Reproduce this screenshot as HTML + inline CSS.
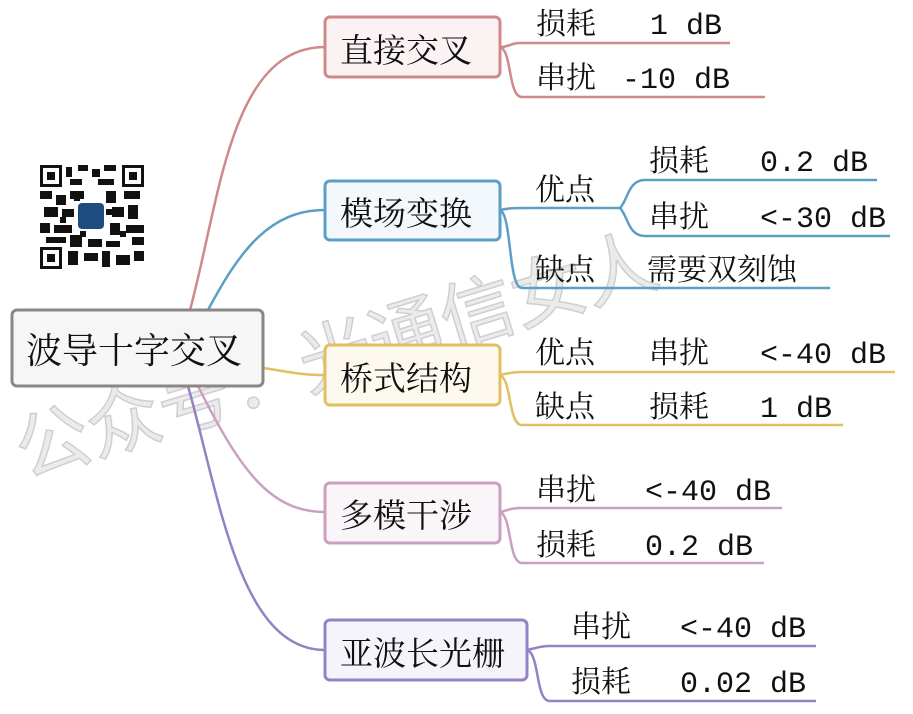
<!DOCTYPE html>
<html><head><meta charset="utf-8"><style>
html,body{margin:0;padding:0;background:#fff}
svg{display:block}
.z{font-family:"Noto Serif CJK SC","Liberation Serif",serif;fill:#111}
.m{font-family:"Liberation Mono","Noto Serif CJK SC",monospace;fill:#111}
</style></head><body>
<svg width="913" height="714" viewBox="0 0 913 714" xmlns="http://www.w3.org/2000/svg">
<!-- watermark -->
<text x="25" y="478" transform="rotate(-17 25 478)" font-family="Noto Sans CJK SC,sans-serif" font-size="74" fill="#ebebeb" stroke="#cfcfcf" stroke-width="1.5">公众号：光通信女人</text>

<!-- QR -->
<g transform="translate(40,165)">
<rect width="104" height="104" fill="#fff"/>
<g fill="#111">
<rect x="0" y="0" width="22" height="22"/><rect x="82" y="0" width="22" height="22"/><rect x="0" y="82" width="22" height="22"/>
</g>
<g fill="#fff"><rect x="3" y="3" width="16" height="16"/><rect x="85" y="3" width="16" height="16"/><rect x="3" y="85" width="16" height="16"/></g>
<g fill="#111"><rect x="7" y="7" width="8" height="8"/><rect x="89" y="7" width="8" height="8"/><rect x="7" y="89" width="8" height="8"/>
<rect x="26" y="2" width="6" height="10"/><rect x="38" y="0" width="10" height="6"/><rect x="52" y="4" width="8" height="8"/><rect x="64" y="0" width="12" height="6"/><rect x="30" y="14" width="12" height="6"/><rect x="58" y="14" width="16" height="6"/>
<rect x="0" y="26" width="12" height="8"/><rect x="16" y="30" width="10" height="10"/><rect x="30" y="26" width="14" height="8"/><rect x="66" y="26" width="10" height="12"/><rect x="84" y="26" width="16" height="8"/>
<rect x="4" y="42" width="14" height="10"/><rect x="22" y="44" width="12" height="8"/><rect x="72" y="42" width="12" height="10"/><rect x="88" y="40" width="10" height="14"/>
<rect x="0" y="58" width="10" height="10"/><rect x="14" y="60" width="18" height="8"/><rect x="70" y="58" width="10" height="12"/><rect x="86" y="60" width="18" height="8"/>
<rect x="6" y="72" width="20" height="6"/><rect x="30" y="70" width="12" height="12"/><rect x="48" y="74" width="14" height="8"/><rect x="66" y="76" width="14" height="6"/><rect x="92" y="72" width="12" height="8"/>
<rect x="28" y="86" width="10" height="14"/><rect x="44" y="88" width="14" height="8"/><rect x="62" y="86" width="8" height="16"/><rect x="76" y="90" width="14" height="10"/><rect x="94" y="86" width="10" height="10"/>
<rect x="34" y="30" width="6" height="6"/><rect x="66" y="44" width="6" height="6"/><rect x="20" y="52" width="6" height="6"/><rect x="40" y="66" width="6" height="6"/><rect x="80" y="66" width="6" height="6"/>
</g>
<rect x="38" y="38" width="26" height="26" rx="4" fill="#1d4d80"/>
</g>

<!-- root connectors -->
<g fill="none" stroke-width="2.5">
<path d="M190 310 C220 200, 230 47, 325 47" stroke="#d08888"/>
<path d="M208 310 C240 250, 270 210, 325 210" stroke="#5aa0c4"/>
<path d="M263 368 C290 372, 300 375, 325 375" stroke="#e0c060"/>
<path d="M198 386 C240 470, 270 512, 325 512" stroke="#c9a0bf"/>
<path d="M188 386 C220 500, 240 650, 325 650" stroke="#9582c4"/>
</g>

<!-- branch lines -->
<g fill="none" stroke-width="2.5">
<g stroke="#d08888">
<path d="M500 47 C510 47,510 43,520 43 L730 43"/>
<path d="M500 47 C512 50,508 97,522 97 L765 97"/>
</g>
<g stroke="#5aa0c4">
<path d="M500 210 C510 208,515 208,525 208 L620 208"/>
<path d="M620 208 C628 200,628 180,645 180 L877 180"/>
<path d="M620 208 C628 216,628 236,645 236 L890 236"/>
<path d="M500 210 C512 215,508 288,522 288 L830 288"/>
</g>
<g stroke="#e0c060">
<path d="M500 375 C510 373,512 372,525 372 L895 372"/>
<path d="M500 375 C512 380,508 425,522 425 L843 425"/>
</g>
<g stroke="#c9a0bf">
<path d="M500 512 C510 510,510 508,520 508 L782 508"/>
<path d="M500 512 C512 516,508 563,522 563 L764 563"/>
</g>
<g stroke="#9582c4">
<path d="M527 650 C537 648,540 646,550 646 L816 646"/>
<path d="M527 650 C540 654,535 701,550 701 L816 701"/>
</g>
</g>

<!-- boxes -->
<rect x="12" y="310" width="251" height="76" rx="5" fill="#f6f6f6" stroke="#8c8686" stroke-width="3"/>
<text x="26" y="363" class="z" font-size="36">波导十字交叉</text>
<rect x="325" y="17" width="175" height="60" rx="5" fill="#fbf3f3" stroke="#d08888" stroke-width="3"/>
<text x="340" y="62" class="z" font-size="33">直接交叉</text>
<rect x="325" y="181" width="175" height="59" rx="5" fill="#f2f8fb" stroke="#5aa0c4" stroke-width="3"/>
<text x="340" y="225" class="z" font-size="33">模场变换</text>
<rect x="325" y="345" width="175" height="60" rx="5" fill="#fdf9ee" stroke="#e0c060" stroke-width="3"/>
<text x="340" y="390" class="z" font-size="33">桥式结构</text>
<rect x="325" y="483" width="175" height="60" rx="5" fill="#faf5f9" stroke="#c9a0bf" stroke-width="3"/>
<text x="340" y="527" class="z" font-size="33">多模干涉</text>
<rect x="325" y="620" width="202" height="60" rx="5" fill="#f6f4fb" stroke="#9582c4" stroke-width="3"/>
<text x="340" y="665" class="z" font-size="33">亚波长光栅</text>

<!-- leaf texts -->
<g font-size="30">
<text x="536" y="34" class="z">损耗</text><text x="650" y="34" class="m">1 dB</text>
<text x="536" y="88" class="z">串扰</text><text x="622" y="88" class="m">-10 dB</text>
<text x="535" y="200" class="z">优点</text>
<text x="649" y="171" class="z">损耗</text><text x="760" y="171" class="m">0.2 dB</text>
<text x="649" y="227" class="z">串扰</text><text x="760" y="227" class="m">&lt;-30 dB</text>
<text x="535" y="280" class="z">缺点</text><text x="647" y="280" class="z">需要双刻蚀</text>
<text x="535" y="363" class="z">优点</text><text x="649" y="363" class="z">串扰</text><text x="760" y="363" class="m">&lt;-40 dB</text>
<text x="535" y="417" class="z">缺点</text><text x="649" y="417" class="z">损耗</text><text x="760" y="417" class="m">1 dB</text>
<text x="536" y="500" class="z">串扰</text><text x="645" y="500" class="m">&lt;-40 dB</text>
<text x="536" y="555" class="z">损耗</text><text x="645" y="555" class="m">0.2 dB</text>
<text x="571" y="637" class="z">串扰</text><text x="680" y="637" class="m">&lt;-40 dB</text>
<text x="571" y="692" class="z">损耗</text><text x="680" y="692" class="m">0.02 dB</text>
</g>
</svg>
</body></html>
